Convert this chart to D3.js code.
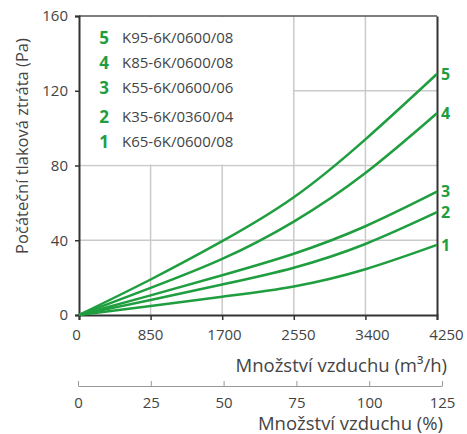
<!DOCTYPE html>
<html><head><meta charset="utf-8">
<script src="https://cdn.jsdelivr.net/npm/d3@7"></script>
<style>
body{margin:0;background:#fff;}
text{font-family:"Open Sans",sans-serif;}
</style></head>
<body><svg id="c" width="467" height="434"></svg>
<script>
const flow = [0, 850, 1700, 2550, 3400, 4250];
const percentTicks = [0, 25, 50, 75, 100, 125];
const pressureTicks = [0, 40, 80, 120, 160];
const curveIds = ["1", "2", "3", "4", "5"];
const curveNames = ["K65-6K/0600/08", "K35-6K/0360/04", "K55-6K/0600/06", "K85-6K/0600/08", "K95-6K/0600/08"];
const s1 = [0, 4.8, 9.8, 15.3, 24.5, 37.5];
const s2 = [0, 8, 16.3, 25.3, 38, 55];
const s3 = [0, 10.5, 21.3, 32.8, 47.5, 66];
const s4 = [0, 14.5, 30, 50, 76, 108];
const s5 = [0, 19, 39.5, 63, 94, 129];
const series = [s1, s2, s3, s4, s5];

const green = "#1f9e3f";
const svg = d3.select("#c");
const L = 79, R = 437, T = 16, B = 315;
const x = d3.scaleLinear().domain([0, 4250]).range([L, R]);
const y = d3.scaleLinear().domain([0, 160]).range([B, T]);
const xp = d3.scaleLinear().domain([0, 125]).range([78, 442]);

// grid
const grid = svg.append("g").attr("stroke", "#cacaca").attr("stroke-width", 1.5);
grid.selectAll("line.v").data(flow.slice(1, -1)).join("line")
  .attr("x1", d => x(d)).attr("x2", d => x(d)).attr("y1", B).attr("y2", T);
grid.selectAll("line.h").data(pressureTicks.slice(1, -1)).join("line")
  .attr("x1", L).attr("x2", R).attr("y1", d => y(d)).attr("y2", d => y(d));
// legend background covering grid
svg.append("rect").attr("x", L + 1).attr("y", T + 1).attr("width", x(2550) - L - 2).attr("height", y(80) - T - 2).attr("fill", "#fff");

// frame top
svg.append("line").attr("x1", L).attr("x2", R).attr("y1", T).attr("y2", T).attr("stroke", "#555").attr("stroke-width", 1.5);

// axes
const fmt = d3.format("d");
const yAx = svg.append("g").attr("transform", `translate(${L},0)`)
  .call(d3.axisLeft(y).tickValues(pressureTicks).tickFormat(fmt).tickSize(4).tickPadding(7));
const xAx = svg.append("g").attr("transform", `translate(0,${B})`)
  .call(d3.axisBottom(x).tickValues(flow).tickFormat(fmt).tickSize(5).tickPadding(9));
const rAx = svg.append("g").attr("transform", `translate(${R},0)`)
  .call(d3.axisRight(y).tickValues([]).tickSizeOuter(0));
[yAx, xAx, rAx].forEach(g => {
  g.select(".domain").attr("stroke", "#333").attr("stroke-width", 2);
  g.selectAll(".tick line").attr("stroke", "#333").attr("stroke-width", 1.5);
  g.selectAll("text").attr("fill", "#444").attr("font-size", 15).attr("font-family", "Open Sans");
});
xAx.selectAll(".tick text").attr("dx", d => -3 + d / 4250 * 12);

const pAx = svg.append("g").attr("transform", `translate(0,386)`)
  .call(d3.axisTop(xp).tickValues(percentTicks).tickSize(5).tickSizeOuter(0));
pAx.select(".domain").attr("stroke", "#999").attr("stroke-width", 1.2);
pAx.selectAll(".tick line").attr("stroke", "#999");
pAx.selectAll(".tick text").attr("fill", "#444").attr("font-size", 15).attr("font-family", "Open Sans")
  .attr("y", 17).attr("dy", "0.32em");

// titles
svg.append("text").attr("x", 447).attr("y", 372).attr("text-anchor", "end")
  .attr("font-size", 18.5).attr("fill", "#444").text("Množství vzduchu (m³/h)");
svg.append("text").attr("x", 443).attr("y", 430).attr("text-anchor", "end")
  .attr("font-size", 18.5).attr("fill", "#444").text("Množství vzduchu (%)");
svg.append("text").attr("transform", "translate(28,146) rotate(-90)").attr("text-anchor", "middle")
  .attr("font-size", 16.5).attr("fill", "#444").text("Počáteční tlaková ztráta (Pa)");

// curves
const line = d3.line().x((d, i) => x(flow[i])).y(d => y(d)).curve(d3.curveNatural);
svg.append("g").selectAll("path").data(series).join("path")
  .attr("d", d => line(d)).attr("fill", "none").attr("stroke", green).attr("stroke-width", 2.5);

// end labels
svg.append("g").selectAll("text").data(curveIds).join("text")
  .attr("x", 441).attr("y", (d, i) => y(series[i][series[i].length - 1]))
  .attr("dy", "0.35em")
  .attr("font-size", 16).attr("font-weight", "bold").attr("fill", green).text(d => d);

// legend
const legY = [142, 117, 88, 63, 38];
const leg = svg.append("g");
curveIds.forEach((id, i) => {
  const yy = legY[i];
  leg.append("text").attr("x", 104).attr("y", yy).attr("dy", "0.35em").attr("text-anchor", "middle")
    .attr("font-size", 17).attr("font-weight", "bold").attr("fill", green).text(id);
  leg.append("text").attr("x", 122).attr("y", yy).attr("dy", "0.35em")
    .attr("font-size", 15).attr("fill", "#444").text(curveNames[i]);
});
</script></body></html>
